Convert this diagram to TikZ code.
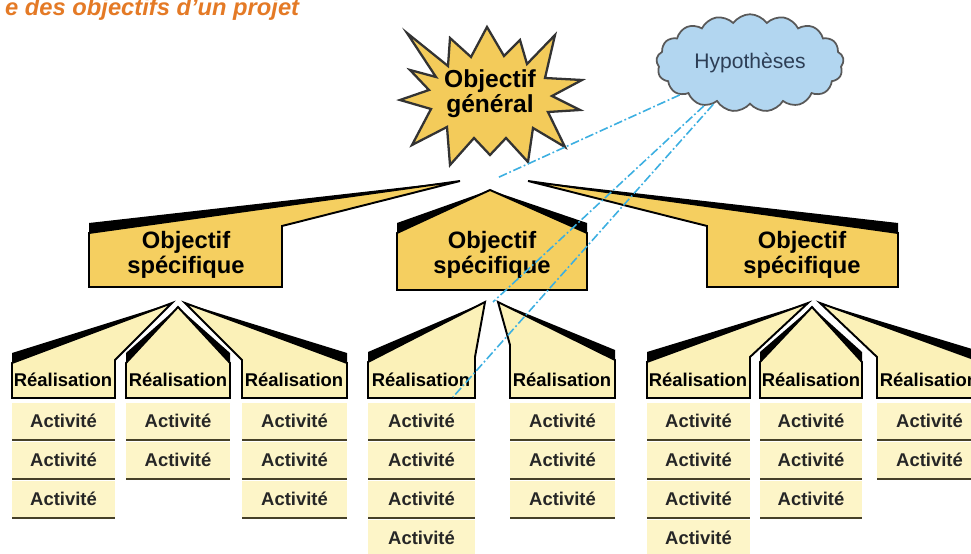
\documentclass[tikz,border=0pt]{standalone}
\usepackage{fontspec}
\setmainfont{Liberation Sans}
\usetikzlibrary{shapes.symbols}
\definecolor{mygold}{RGB}{245,207,96}
\definecolor{mystar}{RGB}{243,203,90}
\definecolor{myyellow}{RGB}{251,241,184}
\definecolor{mycream}{RGB}{253,245,200}
\definecolor{mysky}{RGB}{178,214,240}
\definecolor{mycyan}{RGB}{60,175,225}
\definecolor{myorange}{RGB}{228,122,38}
\definecolor{myline}{RGB}{70,64,40}
\definecolor{myslate}{RGB}{45,62,85}

% box with a roof: style, x left, x right, y top left, y top right, y bottom, tip
\newcommand{\roofbox}[7]{\draw[#1] (#2,#6) -- (#3,#6) -- (#3,#5) -- #7 -- (#2,#4) -- cycle;}
% black shade along a roof edge: x, y, tip
\newcommand{\roofshade}[3]{\fill (#1,#2) -- #3 -- (#1,#2-10) -- cycle;}

\begin{document}
\begin{tikzpicture}[x=0.02cm,y=-0.02cm,
  objbox/.style={fill=mygold,draw=black,line width=1.1pt},
  realbox/.style={fill=myyellow,draw=black,line width=1.1pt},
  objtext/.style={align=center,font=\fontsize{13.5}{14.5}\selectfont\bfseries},
  realtext/.style={font=\fontsize{10.5}{12}\selectfont\bfseries,inner sep=0pt},
  acttext/.style={font=\fontsize{10.5}{12}\selectfont\bfseries,text=black!85},
  actline/.style={draw=myline,line width=1.3pt},
  hypline/.style={draw=mycyan,line width=0.9pt,dash pattern=on 5pt off 1.5pt on 1pt off 1.5pt}]

  \path[use as bounding box] (0,0) rectangle (971,554);
  \clip (0,0) rectangle (971,554);

  \node[anchor=base west,text=myorange,font=\fontsize{13.5}{16}\selectfont\bfseries\itshape]
    (title) at (-1,16) {e des objectifs d'un projet};

  % general objective
  \draw[fill=mystar,draw=black!80,line width=1.3pt,line join=miter]
    (407,33) -- (448,66) -- (450,38) -- (471,57) -- (487,27) -- (504,56) -- (520,40)
    -- (527,64) -- (555,35) -- (545,78) -- (582,80) -- (552,96) -- (580,110)
    -- (548,112) -- (565,147) -- (533,128) -- (528,162) -- (506,138) -- (490,155)
    -- (474,138) -- (450,165) -- (447,127) -- (412,145) -- (431,109) -- (400,100)
    -- (429,90) -- (410,70) -- (436,77) -- cycle;
  \node[align=center,font=\fontsize{14}{13}\selectfont\bfseries] (goal) at (490,94) {Objectif\\général};

  \node[cloud,cloud puffs=17,cloud puff arc=110,aspect=2.1,fill=mysky,draw=black!65,
    line width=1pt,minimum width=3.75cm,minimum height=1.95cm,inner sep=0pt,
    text=myslate,font=\fontsize{12}{14}\selectfont] (hyp) at (750,63) {Hypothèses};

  % specific objectives
  \roofbox{objbox}{89}{282}{233}{226}{287}{(460,181)}
  \roofshade{89}{233}{(460,181)}
  \roofbox{objbox}{397}{587}{233}{233}{290}{(490,190)}
  \roofshade{397}{233}{(490,190)}
  \roofshade{587}{233}{(490,190)}
  \roofbox{objbox}{707}{898}{226}{233}{287}{(528,181)}
  \roofshade{898}{233}{(528,181)}

  \node[objtext] (obj1) at (186,255) {Objectif\\spécifique};
  \node[objtext] (obj2) at (492,255) {Objectif\\spécifique};
  \node[objtext] (obj3) at (802,255) {Objectif\\spécifique};

  % realisations
  \roofbox{realbox}{12}{115}{363}{360}{398}{(172,303)}
  \roofshade{12}{363}{(172,303)}
  \roofbox{realbox}{126}{230}{363}{363}{398}{(178,307)}
  \roofshade{126}{363}{(178,307)}
  \roofshade{230}{363}{(178,307)}
  \roofbox{realbox}{242}{347}{360}{363}{398}{(185,303)}
  \roofshade{347}{363}{(185,303)}

  \roofbox{realbox}{368}{475}{362}{357}{398}{(485,302)}
  \roofshade{368}{362}{(485,302)}
  \roofbox{realbox}{510}{615}{345}{360}{398}{(498,302)}
  \roofshade{615}{360}{(498,302)}

  \roofbox{realbox}{647}{750}{362}{357}{398}{(808,303)}
  \roofshade{647}{362}{(808,303)}
  \roofbox{realbox}{760}{862}{362}{362}{398}{(812,307)}
  \roofshade{760}{362}{(812,307)}
  \roofshade{862}{362}{(812,307)}
  \roofbox{realbox}{877}{982}{357}{362}{398}{(820,303)}
  \roofshade{982}{362}{(820,303)}

  \foreach \x [count=\i] in {63,178,294,421,562,698,811,929}
    \node[realtext] (r\i) at (\x,380) {Réalisation};

  % activities under each realisation
  \foreach \xl/\xr/\n [count=\c] in {12/115/3,126/230/2,242/347/3,368/475/4,510/615/3,647/750/4,760/862/3,877/982/2}{
    \foreach \k in {1,...,\n}{
      \fill[mycream] (\xl,364+39*\k) rectangle (\xr,401+39*\k);
      \draw[actline] (\xl,401+39*\k) -- (\xr,401+39*\k);
      \node[acttext] (a\c-\k) at ({(\xl+\xr)/2},382+39*\k) {Activité};
    }
  }

  % links from the hypotheses
  \coordinate (h1) at (497,178);
  \coordinate (h2) at (493,302);
  \coordinate (h3) at (453,397);
  \draw[hypline] (hyp) -- (h1);
  \draw[hypline] (hyp) -- (h2);
  \draw[hypline] (hyp) -- (h3);
\end{tikzpicture}
\end{document}
